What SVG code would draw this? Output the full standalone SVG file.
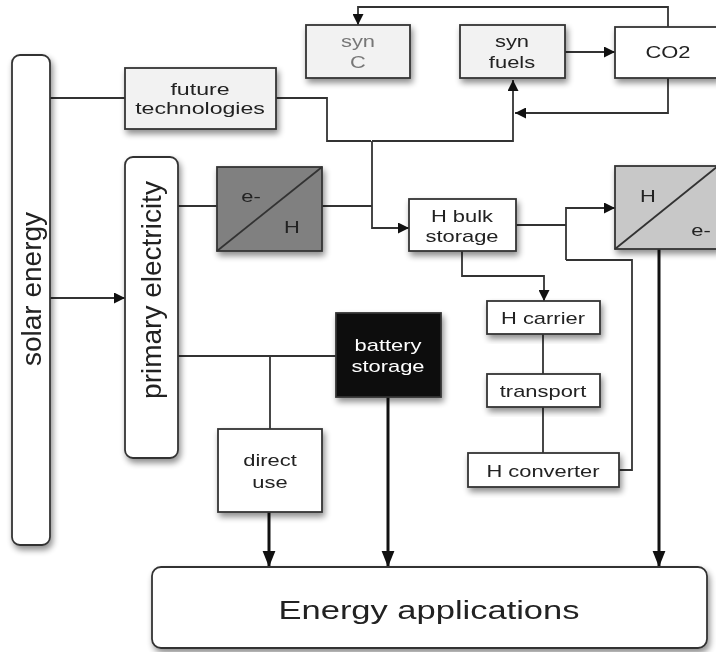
<svg xmlns="http://www.w3.org/2000/svg" width="716" height="652" viewBox="0 0 716 652">
<style>
text{font-family:"Liberation Sans",Arial,sans-serif;fill:#222;text-anchor:middle;font-size:16px}
.box{stroke:#333;stroke-width:1.8}
.w{fill:#fff}
.l{fill:none;stroke:#333;stroke-width:1.8}
.t{fill:none;stroke:#111;stroke-width:3}
.s17{font-size:17px}
</style>
<defs>
<filter id="sh" x="-20%" y="-20%" width="150%" height="150%">
<feGaussianBlur in="SourceAlpha" stdDeviation="3"/>
<feOffset dx="2" dy="4" result="b"/>
<feComponentTransfer><feFuncA type="linear" slope="0.45"/></feComponentTransfer>
<feMerge><feMergeNode/><feMergeNode in="SourceGraphic"/></feMerge>
</filter>
<marker id="a" viewBox="0 0 10 10" refX="10" refY="5" markerWidth="13" markerHeight="11" markerUnits="userSpaceOnUse" orient="auto"><path d="M0,0L10,5L0,10z" fill="#111"/></marker>
<marker id="b" viewBox="0 0 10 10" refX="10" refY="5" markerWidth="16" markerHeight="16" markerUnits="userSpaceOnUse" orient="auto"><path d="M0,1L10,5L0,9z" fill="#111"/></marker>
</defs>
<g id="connectors">
<path class="l" d="M50,98H125"/>
<path class="l" d="M276,98H327V141H371"/>
<path class="l" d="M372,141H513V80" marker-end="url(#a)"/>
<path class="l" d="M668,78V113H515" marker-end="url(#a)"/>
<path class="l" d="M668,27V7H358V25" marker-end="url(#a)"/>
<path class="l" d="M565,52H615" marker-end="url(#a)"/>
<path class="l" d="M50,298H125" marker-end="url(#a)"/>
<path class="l" d="M178,206H217"/>
<path class="l" d="M322,206H372"/>
<path class="l" d="M372,141V228H409" marker-end="url(#a)"/>
<path class="l" d="M516,225H566"/>
<path class="l" d="M566,260V208H615" marker-end="url(#a)"/>
<path class="l" d="M566,260H632V470H619"/>
<path class="l" d="M462,251V276H544V301" marker-end="url(#a)"/>
<path class="l" d="M543,334V374M543,407V453"/>
<path class="l" d="M178,356H336M270,356V429"/>
<path class="t" d="M269,512V567" marker-end="url(#b)"/>
<path class="t" d="M388,397V567" marker-end="url(#b)"/>
<path class="t" d="M659,249V567" marker-end="url(#b)"/>
</g>
<g id="solar-energy" filter="url(#sh)">
<rect class="box w" x="12" y="55" width="38" height="490" rx="8"/>
<text transform="translate(41,289) rotate(-90)" style="font-size:28px">solar energy</text>
</g>
<g id="primary-electricity" filter="url(#sh)">
<rect class="box w" x="125" y="157" width="53" height="301" rx="8"/>
<text transform="translate(161,290) rotate(-90)" style="font-size:28px">primary electricity</text>
</g>
<g id="future-technologies" filter="url(#sh)">
<rect class="box" fill="#f2f2f2" x="125" y="68" width="151" height="61"/>
<text class="s17" transform="translate(200,95) scale(1.36,1)">future</text>
<text class="s17" transform="translate(200,114) scale(1.36,1)">technologies</text>
</g>
<g id="syn-c" filter="url(#sh)">
<rect class="box" fill="#f2f2f2" x="306" y="25" width="104" height="53"/>
<text transform="translate(358,47) scale(1.37,1)" style="fill:#777">syn</text>
<text transform="translate(358,68) scale(1.37,1)" style="fill:#777">C</text>
</g>
<g id="syn-fuels" filter="url(#sh)">
<rect class="box" fill="#f2f2f2" x="460" y="25" width="105" height="53"/>
<text transform="translate(512,47) scale(1.37,1)">syn</text>
<text transform="translate(512,68) scale(1.37,1)">fuels</text>
</g>
<g id="co2" filter="url(#sh)">
<rect class="box w" x="615" y="27" width="103" height="51"/>
<text transform="translate(668,58) scale(1.37,1)">CO2</text>
</g>
<g id="e-h" filter="url(#sh)">
<rect class="box" fill="#808080" x="217" y="167" width="105" height="84"/>
<path class="l" d="M217,251L322,167"/>
<text transform="translate(251,202) scale(1.37,1)">e-</text>
<text transform="translate(292,233) scale(1.37,1)">H</text>
</g>
<g id="h-bulk-storage" filter="url(#sh)">
<rect class="box w" x="409" y="199" width="107" height="52"/>
<text transform="translate(462,222) scale(1.37,1)">H bulk</text>
<text transform="translate(462,242) scale(1.37,1)">storage</text>
</g>
<g id="h-e" filter="url(#sh)">
<rect class="box" fill="#c8c8c8" x="615" y="166" width="103" height="83"/>
<path class="l" d="M615,249L718,166"/>
<text transform="translate(648,202) scale(1.37,1)">H</text>
<text transform="translate(701,236) scale(1.37,1)">e-</text>
</g>
<g id="h-carrier" filter="url(#sh)">
<rect class="box w" x="487" y="301" width="113" height="33"/>
<text transform="translate(543,324) scale(1.37,1)">H carrier</text>
</g>
<g id="transport" filter="url(#sh)">
<rect class="box w" x="487" y="374" width="113" height="33"/>
<text transform="translate(543,397) scale(1.37,1)">transport</text>
</g>
<g id="h-converter" filter="url(#sh)">
<rect class="box w" x="468" y="453" width="151" height="34"/>
<text transform="translate(543,477) scale(1.37,1)">H converter</text>
</g>
<g id="battery-storage" filter="url(#sh)">
<rect class="box" fill="#111" x="336" y="313" width="105" height="84"/>
<text transform="translate(388,351) scale(1.37,1)" style="fill:#fff">battery</text>
<text transform="translate(388,372) scale(1.37,1)" style="fill:#fff">storage</text>
</g>
<g id="direct-use" filter="url(#sh)">
<rect class="box w" x="218" y="429" width="104" height="83"/>
<text transform="translate(270,466) scale(1.37,1)">direct</text>
<text transform="translate(270,488) scale(1.37,1)">use</text>
</g>
<g id="energy-applications" filter="url(#sh)">
<rect class="box w" x="152" y="567" width="555" height="81" rx="9"/>
<text transform="translate(429,619) scale(1.38,1)" style="font-size:25px">Energy applications</text>
</g>
</svg>
